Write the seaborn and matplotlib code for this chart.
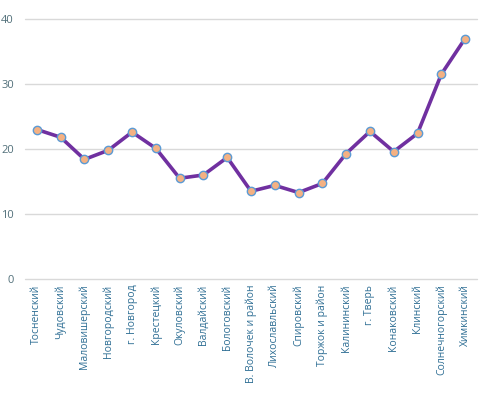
import pandas as pd
import matplotlib
matplotlib.use('Agg')
import matplotlib.pyplot as plt
import seaborn as sns

districts = ['Тосненский', 'Чудовский', 'Маловишерский', 'Новгородский', 'г. Новгород',
             'Крестецкий', 'Окуловский', 'Валдайский', 'Бологовский', 'В. Волочек и район',
             'Лихославльский', 'Спировский', 'Торжок и район', 'Калининский', 'г. Тверь',
             'Конаковский', 'Клинский', 'Солнечногорский', 'Химкинский']
values = [23.0, 21.8, 18.4, 19.8, 22.6, 20.1, 15.5, 16.0, 18.7, 13.5,
          14.4, 13.3, 14.7, 19.3, 22.7, 19.6, 22.4, 31.5, 37.0]

df = pd.DataFrame({'district': districts, 'value': values})
df['pos'] = range(len(df))

sns.set_style('white')
plt.rcParams['font.family'] = ['Open Sans', 'DejaVu Sans']

fig = plt.figure(figsize=(4.82, 3.95), dpi=100)
ax = fig.add_axes([25 / 482, 1 - 279 / 395, 452 / 482, 260 / 395])

sns.lineplot(data=df, x='pos', y='value', ax=ax, color='#7030A0', linewidth=2.6,
             marker='o', markersize=6, markerfacecolor='#F4B183',
             markeredgecolor='#5B9BD5', markeredgewidth=1.0)

ax.set_xlim(-0.5, len(df) - 0.5)
ax.set_ylim(0, 40)
ax.set_yticks([0, 10, 20, 30, 40])
ax.set_xticks(df['pos'])
ax.set_xticklabels(df['district'], rotation=90, fontsize=7.5, color='#2E6E94')
ax.tick_params(axis='y', labelsize=8, colors='#52707A', length=0, pad=8)
ax.tick_params(axis='x', length=0, pad=4)
ax.grid(axis='y', color='#D9D9D9', linewidth=1)
for g in ax.get_ygridlines():
    g.set_clip_on(False)
ax.set_axisbelow(True)
for s in ax.spines.values():
    s.set_visible(False)
ax.set_xlabel('')
ax.set_ylabel('')

fig.savefig('out.png', dpi=100)
